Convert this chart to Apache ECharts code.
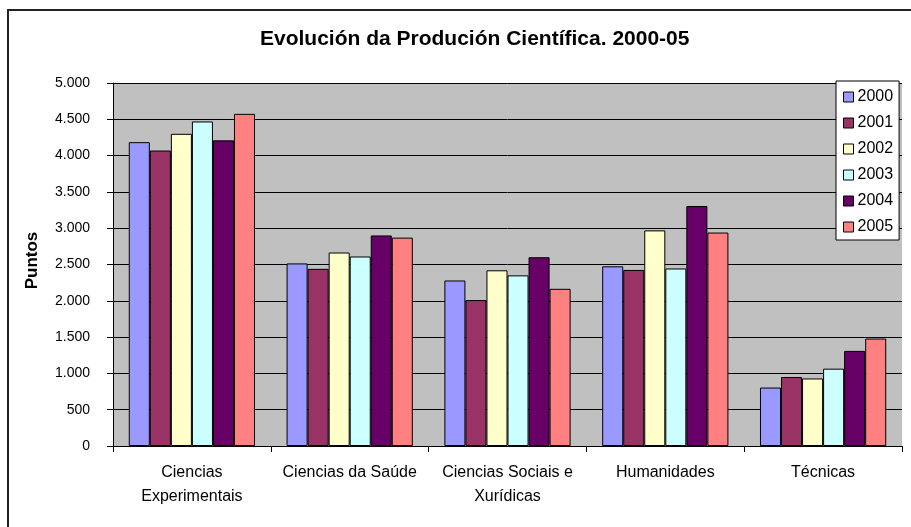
<!DOCTYPE html>
<html>
<head>
<meta charset="utf-8">
<title>Evolución da Produción Científica</title>
<script src="https://cdn.jsdelivr.net/npm/echarts@6/dist/echarts.min.js"></script>
<style>
  html, body { margin: 0; padding: 0; background: #fff; }
  #chart { width: 911px; height: 527px; }
</style>
</head>
<body>
<div id="chart"></div>
<script>
// categorías e series
const categories = ["Ciencias\nExperimentais", "Ciencias da Saúde", "Ciencias Sociais e\nXurídicas", "Humanidades", "Técnicas"]
const years = ["2000", "2001", "2002", "2003", "2004", "2005"]
const colors = ["#9999FF", "#993366", "#FFFFCC", "#CCFFFF", "#660066", "#FF8080"]

const v2000 = [4185, 2515, 2280, 2475, 805]
const v2001 = [4070, 2440, 2010, 2425, 950]
const v2002 = [4300, 2665, 2420, 2970, 930]
const v2003 = [4470, 2610, 2350, 2445, 1065]
const v2004 = [4210, 2900, 2600, 3305, 1310]
const v2005 = [4575, 2870, 2165, 2940, 1480]
const values = [v2000, v2001, v2002, v2003, v2004, v2005]

const yTicks = { min: 0, max: 5000, interval: 500 }

const font = "'Liberation Sans', Arial, sans-serif"

const chart = echarts.init(document.getElementById("chart"))

// formato con punto de millares
const fmt = (v) => String(v).replace(/\B(?=(\d{3})+(?!\d))/g, ".")

const option = {
  animation: false,
  backgroundColor: "#fff",
  textStyle: { fontFamily: font },
  title: {
    text: "Evolución da Produción Científica. 2000-05",
    left: 255,
    top: 24,
    textStyle: { fontFamily: font, fontSize: 21, fontWeight: "bold", color: "#000" }
  },
  graphic: [
    {
      type: "rect",
      shape: { x: 8, y: 10, width: 920, height: 540 },
      style: { fill: "none", stroke: "#222", lineWidth: 2 },
      silent: true
    }
  ],
  legend: {
    orient: "vertical",
    left: 836,
    top: 81,
    padding: [8, 6, 5, 7],
    itemGap: 10,
    itemWidth: 10,
    itemHeight: 10,
    icon: "rect",
    backgroundColor: "#fff",
    borderColor: "#000",
    borderWidth: 1,
    data: years,
    itemStyle: { borderColor: "#000", borderWidth: 1 },
    textStyle: { fontFamily: font, fontSize: 16, color: "#000", padding: [0, 0, 0, -1] }
  },
  grid: {
    left: 113,
    top: 83,
    right: 9,
    bottom: 81,
    show: true,
    backgroundColor: "#C0C0C0",
    borderWidth: 0
  },
  xAxis: {
    type: "category",
    data: categories,
    axisLine: { lineStyle: { color: "#000", width: 1 } },
    axisTick: { show: true, length: 6, lineStyle: { color: "#000" } },
    axisLabel: {
      fontFamily: font,
      fontSize: 16,
      color: "#000",
      margin: 15,
      lineHeight: 24,
      interval: 0
    }
  },
  yAxis: {
    type: "value",
    min: yTicks.min,
    max: yTicks.max,
    interval: yTicks.interval,
    name: "Puntos",
    nameLocation: "middle",
    nameGap: 72,
    nameTextStyle: { fontFamily: font, fontSize: 17, fontWeight: "bold", color: "#000", padding: [0, 0, 0, 8] },
    axisLine: { show: true, lineStyle: { color: "#000", width: 1 } },
    axisTick: { show: true, length: 6, lineStyle: { color: "#000" } },
    splitLine: { show: true, lineStyle: { color: "#000", width: 1 } },
    axisLabel: {
      fontFamily: font,
      fontSize: 14,
      color: "#000",
      margin: 23,
      formatter: fmt
    }
  },
  series: years.map((y, i) => ({
    name: y,
    type: "bar",
    data: values[i],
    barGap: "0%",
    barCategoryGap: "20%",
    itemStyle: { color: colors[i], borderColor: "#000", borderWidth: 1 }
  }))
}

chart.setOption(option)
</script>
</body>
</html>
